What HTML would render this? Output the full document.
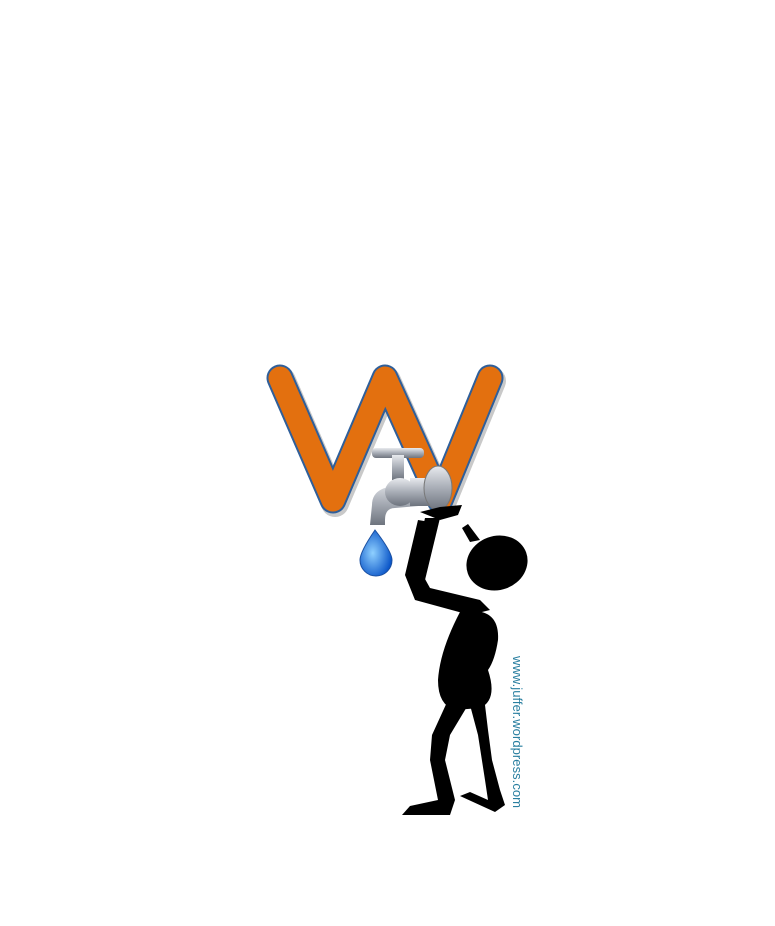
<!DOCTYPE html>
<html><head><style>html,body{margin:0;padding:0;background:#fff}</style></head>
<body>
<svg width="775" height="921" viewBox="0 0 775 921" xmlns="http://www.w3.org/2000/svg">
<defs>
<linearGradient id="g" x1="0" y1="0" x2="0" y2="1"><stop offset="0" stop-color="#e8eaee"/><stop offset=".5" stop-color="#a8adb6"/><stop offset="1" stop-color="#6e747e"/></linearGradient>
<radialGradient id="d" cx=".4" cy=".5" r=".6"><stop offset="0" stop-color="#8fd0ff"/><stop offset="1" stop-color="#0a55c8"/></radialGradient>
</defs>
<polyline points="280,378 333,500 385,378 440,500 490,378" fill="none" stroke="#c9c9c9" stroke-width="28" stroke-linejoin="round" stroke-linecap="round" transform="translate(2,3)"/>
<polyline points="280,378 333,500 385,378 440,500 490,378" fill="none" stroke="#2f5f9a" stroke-width="27" stroke-linejoin="round" stroke-linecap="round"/>
<polyline points="280,378 333,500 385,378 440,500 490,378" fill="none" stroke="#e3700f" stroke-width="23" stroke-linejoin="round" stroke-linecap="round"/>
<!-- faucet -->
<rect x="372" y="448" width="52" height="10" rx="4" fill="url(#g)"/>
<rect x="392" y="455" width="12" height="25" fill="url(#g)"/>
<path d="M372,505 Q372,488 395,486 L425,480 L430,505 L395,508 Q385,508 385,520 L385,525 L370,525 Z" fill="url(#g)"/>
<ellipse cx="400" cy="492" rx="15" ry="14" fill="url(#g)"/>
<rect x="410" y="478" width="25" height="28" fill="url(#g)"/>
<ellipse cx="438" cy="488" rx="14" ry="22" fill="url(#g)" stroke="#777" stroke-width="1"/>
<path d="M375,530 Q360,552 360,560 A16,16 0 0 0 392,560 Q392,552 375,530 Z" fill="url(#d)" stroke="#1a4fa0" stroke-width="1"/>
<!-- stick figure -->
<g fill="#000">
<ellipse cx="497" cy="563" rx="31" ry="27" transform="rotate(-20 497 563)"/>
<path d="M470,542 L462,528 L468,524 L480,540 Z"/>
<path d="M420,512 L440,507 L462,505 L458,515 L440,520 Z"/>
<path d="M425,518 L440,518 L425,580 L412,575 Z"/>
<path d="M418,520 L405,575 L415,600 L470,615 L490,610 L480,600 L430,588 L420,570 L430,522 Z"/>
<path d="M460,612 Q500,605 498,640 Q495,660 488,670 Q498,700 480,708 L455,710 Q438,705 438,680 Q440,650 460,612 Z"/>
<path d="M448,700 L432,735 L430,760 L438,800 L410,806 L402,815 L450,815 L455,800 L445,760 L450,735 L468,705 Z"/>
<path d="M470,705 L478,735 L485,780 L488,800 L470,792 L460,796 L495,812 L505,805 L500,790 L492,760 L488,730 L485,705 Z"/>
</g>
<text x="0" y="0" transform="translate(513,656) rotate(90)" font-family="Liberation Sans, sans-serif" font-size="13" fill="#2a7fa0" textLength="152">www.juffer.wordpress.com</text>
</svg>
</body></html>
